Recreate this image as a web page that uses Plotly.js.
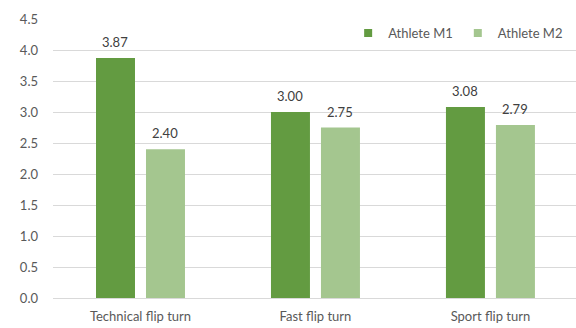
<!DOCTYPE html>
<html><head><meta charset="utf-8">
<script src="https://cdn.plot.ly/plotly-3.0.1.min.js"></script>
<style>html,body{margin:0;padding:0;background:#fff}#chart{width:576px;height:328px}</style>
</head><body><div id="chart"></div>
<script>
const categories = ["Technical flip turn", "Fast flip turn", "Sport flip turn"];
const athleteM1 = [3.87, 3.00, 3.08];
const athleteM2 = [2.40, 2.75, 2.79];
const seriesNames = ["Athlete M1", "Athlete M2"];
const seriesColors = ["#639b41", "#a4c68f"];
const yTicks = [0, 0.5, 1, 1.5, 2, 2.5, 3, 3.5, 4, 4.5];

const fam = "Lato, 'Open Sans', sans-serif";
const series = [athleteM1, athleteM2];

const data = [];
series.forEach((vals, i) => {
  data.push({
    type: "bar", name: seriesNames[i], x: categories, y: vals,
    marker: {color: seriesColors[i], line: {width: 0}},
    showlegend: false, hoverinfo: "skip"
  });
});
series.forEach((vals, i) => {
  data.push({
    type: "scatter", mode: "markers", name: seriesNames[i],
    x: [categories[0]], y: [null],
    marker: {symbol: "square", size: 8, color: seriesColors[i]},
    showlegend: true, hoverinfo: "skip"
  });
});

const annotations = [];
series.forEach((vals, i) => {
  vals.forEach((v, j) => {
    annotations.push({
      x: categories[j], y: v, xref: "x", yref: "y",
      text: v.toFixed(2), showarrow: false,
      xanchor: "center", yanchor: "bottom",
      xshift: i === 0 ? -25 : 25, yshift: 6,
      font: {family: fam, size: 13, color: "#404040"}
    });
  });
});

const layout = {
  width: 576, height: 328,
  margin: {l: 53, r: 0, t: 19, b: 30},
  paper_bgcolor: "#fff", plot_bgcolor: "#fff",
  font: {family: fam, size: 13, color: "#595959"},
  barmode: "group", bargap: 0.4286, bargroupgap: 0.22,
  showlegend: true,
  legend: {orientation: "h", x: 0.985, xanchor: "right", y: 0.95, yanchor: "middle",
           font: {family: fam, size: 13, color: "#595959"}, bgcolor: "rgba(0,0,0,0)",
           itemwidth: 30, traceorder: "normal"},
  annotations: annotations,
  xaxis: {type: "category", range: [-0.5, 2.489], showgrid: false, zeroline: false,
          showline: false, ticks: "", ticklabelstandoff: 9, fixedrange: true},
  yaxis: {range: [0, 4.5], tickvals: yTicks, ticktext: yTicks.map(v => v.toFixed(1)),
          showgrid: true, gridcolor: "#d9d9d9", gridwidth: 1, zeroline: true, zerolinecolor: "#d9d9d9",
          zerolinewidth: 1, showline: false, ticks: "", ticklabelstandoff: 14, fixedrange: true}
};
Plotly.newPlot("chart", data, layout, {staticPlot: true, displayModeBar: false});
</script></body></html>
